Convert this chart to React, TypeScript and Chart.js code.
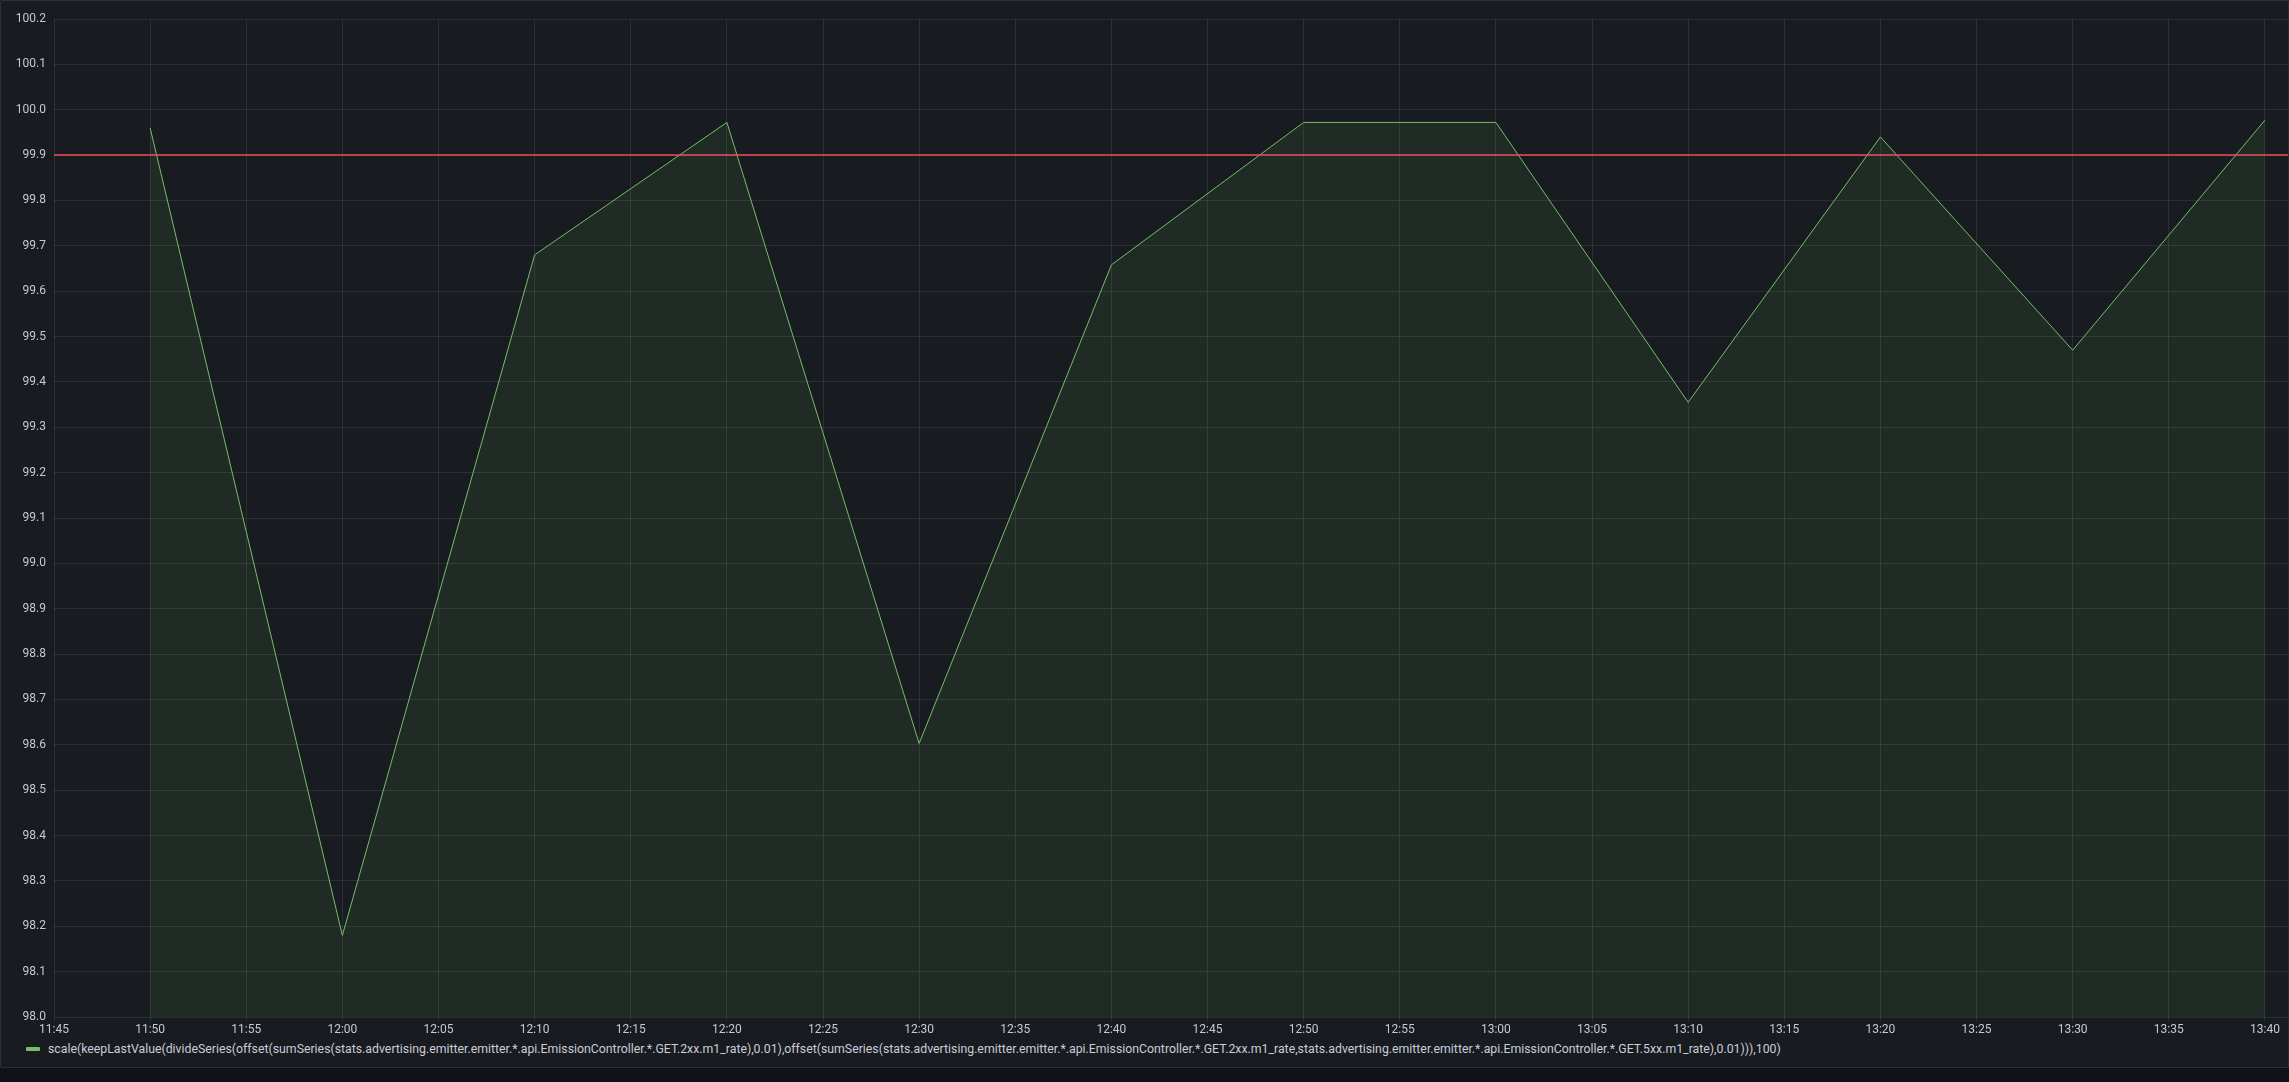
import React, { useEffect, useRef } from "react";
import { Chart, registerables } from "chart.js";

Chart.register(...registerables);

// time in minutes since midnight
const times: number[] = [710, 720, 730, 740, 750, 760, 770, 780, 790, 800, 810, 820];
const values: number[] = [99.96, 98.18, 99.68, 99.972, 98.603, 99.658, 99.972, 99.972, 99.355, 99.94, 99.47, 99.977];
const thresholdValue = 99.9;
const xMin = 705;
const xMax = 821.2;
const yMin = 98.0;
const yMax = 100.2;
const yStep = 0.1;
const xStep = 5;
const seriesLabel =
  "scale(keepLastValue(divideSeries(offset(sumSeries(stats.advertising.emitter.emitter.*.api.EmissionController.*.GET.2xx.m1_rate),0.01),offset(sumSeries(stats.advertising.emitter.emitter.*.api.EmissionController.*.GET.2xx.m1_rate,stats.advertising.emitter.emitter.*.api.EmissionController.*.GET.5xx.m1_rate),0.01))),100)";

const fmtTime = (v: number) => {
  const h = Math.floor(v / 60);
  const m = Math.round(v - h * 60);
  return `${String(h).padStart(2, "0")}:${String(m).padStart(2, "0")}`;
};

export default function App() {
  const ref = useRef<HTMLCanvasElement | null>(null);

  useEffect(() => {
    document.body.style.margin = "0";
    document.body.style.background = "#111217";
    const ctx = ref.current!;
    const gridColor = "rgba(240,250,255,0.09)";
    const tickColor = "#c7c9d1";
    const font = { family: "Roboto", size: 12 };
    const chart = new Chart(ctx, {
      type: "line",
      data: {
        datasets: [
          {
            label: "threshold",
            data: [
              { x: xMin, y: thresholdValue },
              { x: xMax, y: thresholdValue },
            ],
            borderColor: "rgba(242,73,92,0.75)",
            borderWidth: 2,
            pointRadius: 0,
            fill: false,
            order: 0,
          },
          {
            label: seriesLabel,
            data: times.map((t, i) => ({ x: t, y: values[i] })),
            borderColor: "#73BF69",
            borderWidth: 1,
            pointRadius: 0,
            tension: 0,
            fill: "start",
            backgroundColor: "rgba(115,191,105,0.1)",
            order: 1,
          },
        ],
      },
      options: {
        animation: false,
        responsive: false,
        maintainAspectRatio: false,
        layout: { padding: { top: 18, right: 2, left: 0, bottom: 0 } },
        plugins: { legend: { display: false }, tooltip: { enabled: false } },
        scales: {
          x: {
            type: "linear",
            min: xMin,
            max: xMax,
            afterBuildTicks: (scale: any) => {
              scale.ticks = scale.ticks.filter((t: any) => Math.abs(t.value / xStep - Math.round(t.value / xStep)) < 1e-6);
            },
            afterFit: (scale: any) => {
              scale.height = 24;
            },
            ticks: {
              stepSize: xStep,
              includeBounds: false,
              color: tickColor,
              font,
              padding: 2,
              maxRotation: 0,
              autoSkip: false,
              callback: (v: any) => fmtTime(Number(v)),
            },
            grid: { color: gridColor, tickLength: 4, drawTicks: true },
            border: { display: false },
          },
          y: {
            min: yMin,
            max: yMax,
            afterFit: (scale: any) => {
              scale.width = 53;
            },
            ticks: {
              stepSize: yStep,
              color: tickColor,
              font,
              padding: 8,
              autoSkip: false,
              callback: (v: any) => Number(v).toFixed(1),
            },
            grid: { color: gridColor, drawTicks: false },
            border: { display: false },
          },
        },
      },
    });
    return () => chart.destroy();
  }, []);

  return (
    <div style={{ position: "absolute", left: 0, top: 0, width: 2289, height: 1082, background: "#111217" }}>
      <div
        style={{
          position: "absolute",
          left: 0,
          top: 0,
          width: 2289,
          height: 1068,
          background: "#181b1f",
          border: "1px solid rgba(204,204,220,0.12)",
          borderRadius: 2,
          boxSizing: "border-box",
        }}
      >
        <canvas ref={ref} width={2289} height={1040} style={{ position: "absolute", left: 0, top: 0, width: 2289, height: 1040 }} />
        <div
          style={{
            position: "absolute",
            left: 25,
            top: 1041,
            display: "flex",
            alignItems: "center",
            fontFamily: "Roboto",
            fontSize: 12.3,
            color: "#ccccdc",
            whiteSpace: "nowrap",
          }}
        >
          <span style={{ display: "inline-block", width: 14, height: 4, background: "#73BF69", borderRadius: 1, marginRight: 8 }} />
          <span>{seriesLabel}</span>
        </div>
      </div>
    </div>
  );
}
